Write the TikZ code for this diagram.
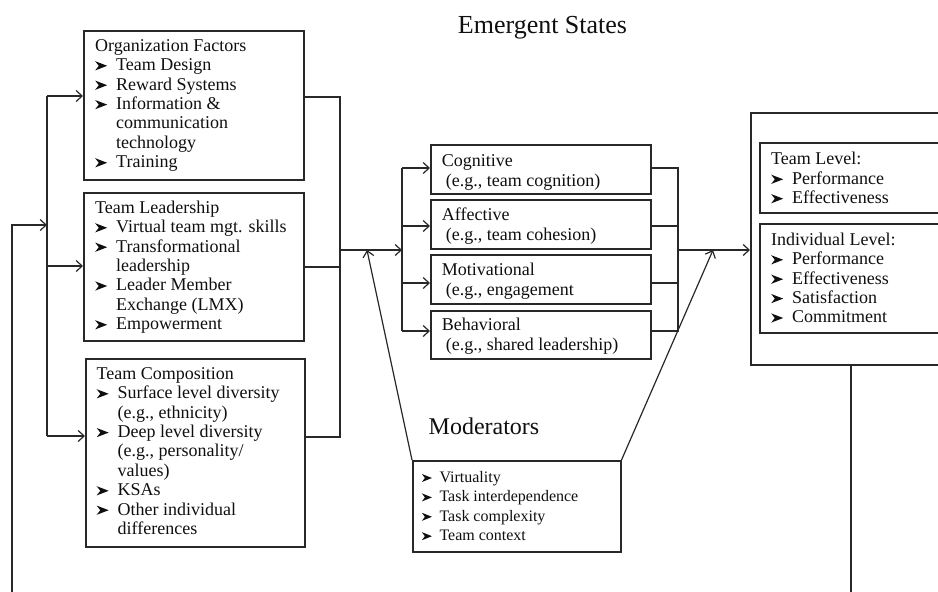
\documentclass[tikz,border=0pt]{standalone}
\usepackage{fontspec}
\setmainfont{Liberation Serif}
\usetikzlibrary{arrows.meta}
\definecolor{ink}{RGB}{40,40,40}
\definecolor{tink}{RGB}{15,15,15}
\newcommand\bl{\makebox[21pt][l]{\tikz[x=1pt,y=1pt,baseline=0pt]\fill[tink](0,0.2)--(12,4.8)--(0,9.4)--(3.6,4.8)--cycle;}}
\newcommand\sbl{\makebox[17.6pt][l]{\tikz[x=1pt,y=1pt,baseline=0pt]\fill[tink](0,0.2)--(10,4.2)--(0,8.2)--(3,4.2)--cycle;}}
\newcommand\ind{\hspace*{21pt}}
\newcommand\st{\rule{0pt}{13.5pt}}
\begin{document}
\begin{tikzpicture}[x=1pt,y=-1pt,
  box/.style={draw=ink, line width=1.5pt, anchor=north west, inner sep=0pt},
  txt/.style={anchor=north west, inner sep=0pt, align=left, text=tink, font=\fontsize{18}{19.4}\selectfont},
  conn/.style={draw=ink, line width=1.2pt},
  arr/.style={conn, -{Straight Barb[length=6pt,width=11pt,line width=1.2pt]}}]
\useasboundingbox (0,0) rectangle (938,592);
\clip (0,0) rectangle (938,592);
% boxes
\node[box, minimum width=220pt, minimum height=149pt] (org) at (83,30) {};
\node[box, minimum width=220pt, minimum height=148pt] (tl) at (83,192) {};
\node[box, minimum width=219pt, minimum height=188pt] (tc) at (85,358) {};
\node[box, minimum width=220pt, minimum height=49pt] (cog) at (430,144) {};
\node[box, minimum width=220pt, minimum height=49pt] (aff) at (430,199) {};
\node[box, minimum width=220pt, minimum height=49pt] (mot) at (430,254) {};
\node[box, minimum width=220pt, minimum height=48pt] (beh) at (430,310) {};
\node[box, minimum width=208pt, minimum height=91pt] (mod) at (412,460) {};
\node[box, minimum width=210pt, minimum height=252pt] (big) at (750,112) {};
\node[box, minimum width=200pt, minimum height=70pt] (team) at (759,142) {};
\node[box, minimum width=200pt, minimum height=109pt] (indiv) at (759,223) {};
% texts
\node[txt] (orgT) at (95,37.5) {\st Organization Factors\\ \bl Team Design\\ \bl Reward Systems\\ \bl Information \&\\ \ind communication\\ \ind technology\\ \bl Training};
\node[txt] (tlT) at (95,199.5) {\st Team Leadership\\ \bl Virtual team mgt. skills\\ \bl Transformational\\ \ind leadership\\ \bl Leader Member\\ \ind Exchange (LMX)\\ \bl Empowerment};
\node[txt] (tcT) at (96.5,365.5) {\st Team Composition\\ \bl Surface level diversity\\ \ind (e.g., ethnicity)\\ \bl Deep level diversity\\ \ind (e.g., personality/\\ \ind values)\\ \bl KSAs\\ \bl Other individual\\ \ind differences};
\node[txt, font=\fontsize{18}{20}\selectfont] (cogT) at (441.7,152.5) {\st Cognitive\\ \hspace*{4pt}(e.g., team cognition)};
\node[txt, font=\fontsize{18}{20}\selectfont] (affT) at (441.7,206.5) {\st Affective\\ \hspace*{4pt}(e.g., team cohesion)};
\node[txt, font=\fontsize{18}{20}\selectfont] (motT) at (441.7,261.5) {\st Motivational\\ \hspace*{4pt}(e.g., engagement};
\node[txt, font=\fontsize{18}{20}\selectfont] (behT) at (441.7,316.5) {\st Behavioral\\ \hspace*{4pt}(e.g., shared leadership)};
\node[txt] (teamT) at (771,151) {\st Team Level:\\ \bl Performance\\ \bl Effectiveness};
\node[txt] (indivT) at (771,231.5) {\st Individual Level:\\ \bl Performance\\ \bl Effectiveness\\ \bl Satisfaction\\ \bl Commitment};
\node[txt, font=\fontsize{16}{19.4}\selectfont] (modT) at (421.7,468.5) {\st\sbl Virtuality\\ \sbl Task interdependence\\ \sbl Task complexity\\ \sbl Team context};
\node[anchor=base, inner sep=0pt, text=tink, font=\fontsize{26}{26}\selectfont] (es) at (542.5,33.3) {Emergent States};
\node[anchor=base, inner sep=0pt, text=tink, font=\fontsize{24}{24}\selectfont] (mods) at (484,434) {Moderators};
% coordinates
\coordinate (lbT) at (47,96);
\coordinate (lbM) at (47,266);
\coordinate (lbB) at (47,436);
\coordinate (fbIn) at (47,225);
\coordinate (fbL) at (12,592);
\coordinate (fbR) at (851,592);
\coordinate (rbT) at (340,97);
\coordinate (rbM) at (340,267);
\coordinate (rbB) at (340,437);
\coordinate (jL) at (340,250);
\coordinate (ebM) at (402,250);
\coordinate (ebT) at (402,168);
\coordinate (eb2) at (402,226);
\coordinate (eb3) at (402,283);
\coordinate (ebB) at (402,331);
\coordinate (obT) at (678,168);
\coordinate (ob2) at (678,226);
\coordinate (ob3) at (678,283);
\coordinate (obB) at (678,331);
\coordinate (obM) at (678,250);
\coordinate (mL) at (367,250);
\coordinate (mR) at (713,250);
% connectors
\draw[arr] (fbL) |- (fbIn);
\draw[conn] (lbT) -- (lbB);
\draw[arr] (lbT) -- (org.west |- lbT);
\draw[arr] (lbM) -- (tl.west |- lbM);
\draw[arr] (lbB) -- (tc.west |- lbB);
\draw[conn] (org.east |- rbT) -- (rbT) -- (rbB) -- (tc.east |- rbB);
\draw[conn] (tl.east |- rbM) -- (rbM);
\draw[arr] (jL) -- (ebM);
\draw[conn] (ebT) -- (ebB);
\draw[arr] (ebT) -- (cog.west |- ebT);
\draw[arr] (eb2) -- (aff.west |- eb2);
\draw[arr] (eb3) -- (mot.west |- eb3);
\draw[arr] (ebB) -- (beh.west |- ebB);
\draw[conn] (cog.east |- obT) -- (obT) -- (obB) -- (beh.east |- obB);
\draw[conn] (aff.east |- ob2) -- (ob2);
\draw[conn] (mot.east |- ob3) -- (ob3);
\draw[arr] (obM) -- (big.west |- obM);
\draw[arr] (mod.north west) -- (mL);
\draw[arr] (mod.north east) -- (mR);
\draw[conn] (big.south -| fbR) -- (fbR);
\end{tikzpicture}
\end{document}
